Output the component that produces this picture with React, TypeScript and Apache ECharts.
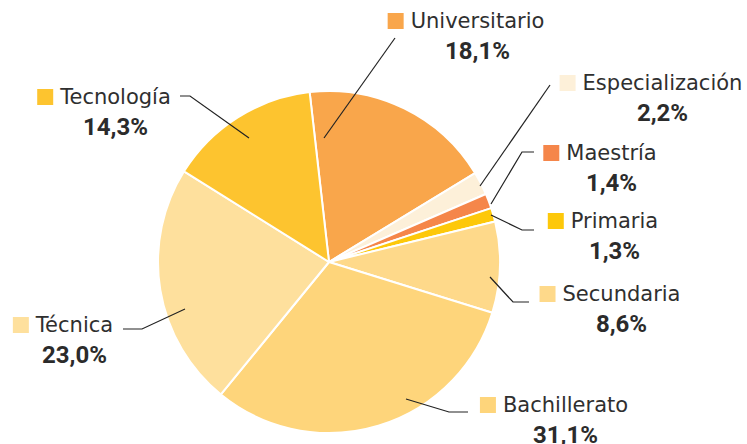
import React, { useEffect, useRef } from "react";
import * as echarts from "echarts";

const categories = [
  "Universitario",
  "Especialización",
  "Maestría",
  "Primaria",
  "Secundaria",
  "Bachillerato",
  "Técnica",
  "Tecnología",
];
const values = [18.1, 2.2, 1.4, 1.3, 8.6, 31.1, 23.0, 14.3];
const colors = [
  "#F9A64B",
  "#FDF0D9",
  "#F5864A",
  "#FDC80A",
  "#FED98A",
  "#FED57B",
  "#FEE09D",
  "#FDC42F",
];

// label layout (block centre x, block centre y) and guide-line points
const labelPlacement: { x: number; y: number; line: number[][] }[] = [
  { x: 466, y: 36, line: [[395, 38], [395, 38], [324, 138]] },
  { x: 651, y: 98, line: [[550, 85], [550, 85], [480, 186]] },
  { x: 600, y: 168, line: [[534, 152], [522, 152], [491, 204]] },
  { x: 603, y: 236, line: [[534, 230], [522, 230], [491, 215]] },
  { x: 610, y: 309, line: [[529, 302], [513, 302], [490, 277]] },
  { x: 554, y: 420, line: [[468, 412], [449, 412], [406, 399]] },
  { x: 63, y: 340, line: [[123, 329], [142, 329], [185, 309]] },
  { x: 104, y: 112, line: [[180, 96], [190, 96], [249, 138]] },
];

export default function App() {
  const ref = useRef<HTMLDivElement>(null);
  useEffect(() => {
    if (!ref.current) return;
    const chart = echarts.init(ref.current, undefined, { renderer: "svg" });
    const rich: any = {
      n: {
        fontFamily: "DejaVu Sans",
        fontSize: 21,
        color: "#2f2f2f",
        padding: [0, 0, 0, 7],
        lineHeight: 30,
      },
      p: {
        fontFamily: "Roboto",
        fontWeight: "bold",
        fontSize: 24,
        color: "#2b2b2b",
        padding: [0, 0, 0, 23],
        lineHeight: 30,
      },
    };
    colors.forEach((c, i) => {
      rich["m" + i] = { width: 16, height: 16, backgroundColor: c };
    });
    const common = {
      type: "pie",
      center: [329, 262],
      radius: 171,
      startAngle: 96.5,
      clockwise: true,
      avoidLabelOverlap: false,
    };
    chart.setOption({
      animation: false,
      series: [
        {
          ...common,
          z: 2,
          itemStyle: { borderColor: "#fff", borderWidth: 2 },
          label: { show: false },
          labelLine: { show: false },
          emphasis: { disabled: true },
          data: categories.map((c, i) => ({
            name: c,
            value: values[i],
            itemStyle: { color: colors[i] },
          })),
        },
        {
          ...common,
          z: 5,
          silent: true,
          itemStyle: { color: "rgba(0,0,0,0)", borderWidth: 0 },
          emphasis: { disabled: true },
          label: {
            show: true,
            position: "outside",
            align: "center",
            formatter: (p: any) =>
              `{m${p.dataIndex}|}{n|${p.name}}\n{p|${Number(p.value)
                .toFixed(1)
                .replace(".", ",")}%}`,
            rich,
          },
          labelLine: {
            show: true,
            lineStyle: { color: "#222", width: 1.2 },
          },
          labelLayout: (params: any) => {
            const lp = labelPlacement[params.dataIndex];
            return {
              x: lp.x,
              y: lp.y,
              align: "center",
              verticalAlign: "middle",
              labelLinePoints: lp.line,
            };
          },
          data: categories.map((c, i) => ({ name: c, value: values[i] })),
        },
      ],
    });
    return () => chart.dispose();
  }, []);
  return (
    <div
      ref={ref}
      style={{ position: "fixed", left: 0, top: 0, width: 747, height: 444, background: "#fff" }}
    />
  );
}
